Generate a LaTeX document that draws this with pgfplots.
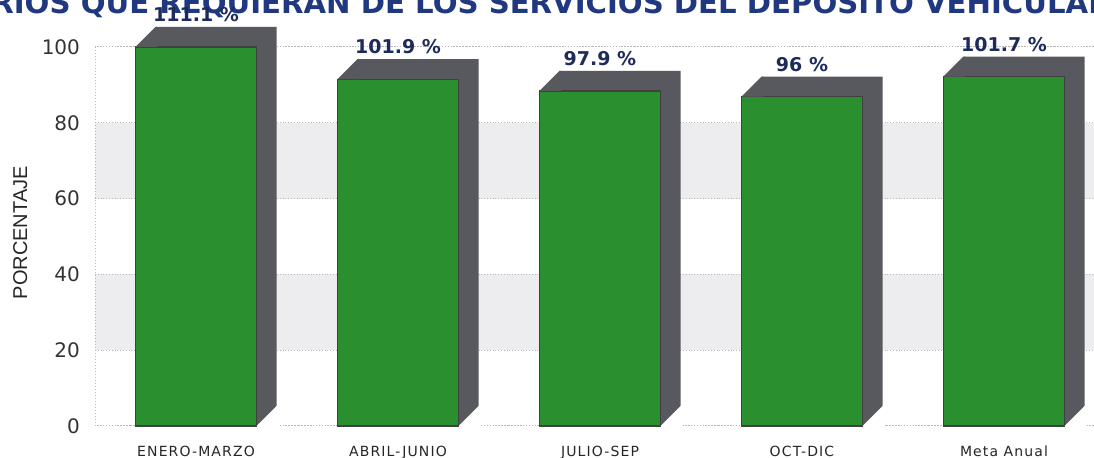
\documentclass[border=0pt]{standalone}
\usepackage{pgfplots}
\pgfplotsset{compat=1.18}
\usepackage{pgfplotstable}
\usepackage{fontspec}
\setmainfont{DejaVu Sans}
\newfontfamily\labfont{Liberation Sans}
\newfontfamily\catfont[LetterSpace=8]{DejaVu Sans}
\definecolor{bargreen}{HTML}{2A8F2E}
\definecolor{sidegray}{HTML}{58595E}
\definecolor{bandgray}{HTML}{EDEDF0}
\definecolor{titleblue}{HTML}{1F3880}
\definecolor{valblue}{HTML}{1C2B5C}
\definecolor{gridgray}{HTML}{B8B8B8}

\pgfdeclareplotmark{chamf}{%
 \pgfpathmoveto{\pgfpointorigin}%
 \pgfpathlineto{\pgfpoint{11pt}{0pt}}%
 \pgfpathlineto{\pgfpoint{11pt}{10pt}}%
 \pgfpathlineto{\pgfpoint{10pt}{10pt}}%
 \pgfpathclose\pgfusepathqfill}

\pgfplotstableread{
x h val
0 100.0 111.1
1 91.5 101.9
2 88.4 97.9
3 86.9 96
4 92.2 101.7
}\datatable

\begin{document}
\begin{tikzpicture}
\node[anchor=base west, font=\bfseries\fontsize{14.6}{16}\selectfont, text=titleblue, inner sep=0pt]
  at (-52pt,206pt) {RIOS QUE REQUIERAN DE LOS SERVICIOS DEL DEPOSITO VEHICULAR};
\begin{axis}[
  name=ax, at={(0,0)}, anchor=south west,
  scale only axis, width=505pt, height=189.5pt,
  xmin=-0.5, xmax=4.5, ymin=0, ymax=100,
  clip=false,
  set layers,
  xtick={0,...,4},
  xticklabels={ENERO-MARZO, ABRIL-JUNIO, JULIO-SEP, OCT-DIC, Meta Anual},
  ytick={0,20,...,100},
  major tick length=0pt,
  ymajorgrids,
  grid style={gridgray, densely dotted, line width=0.5pt},
  axis line style={gridgray, densely dotted, line width=0.5pt},
  yticklabel style={font=\fontsize{10}{12}\selectfont, text=black!80, xshift=-4pt},
  xticklabel style={font=\catfont\fontsize{7}{8}\selectfont, text=black!85, yshift=-6.5pt},
  ylabel={PORCENTAJE},
  ylabel style={font=\labfont\fontsize{10}{12}\selectfont, text=black!85, at={(axis description cs:-0.074,0.51)}, anchor=center},
  /pgf/number format/assume math mode=true,
]
\begin{pgfonlayer}{axis background}
\fill[bandgray] (axis cs:-0.5,20) rectangle (axis cs:4.5,40);
\fill[bandgray] (axis cs:-0.5,60) rectangle (axis cs:4.5,80);
\end{pgfonlayer}
\addplot[ybar, bar width=60.5pt, bar shift=10pt, fill=sidegray, draw=none]
  table[x=x, y expr=\thisrow{h}+5.277] {\datatable};
\addplot[only marks, mark=chamf, color=sidegray]
  table[x expr=\thisrow{x}-0.3, y=h] {\datatable};
\addplot[only marks, mark=chamf, color=white]
  table[x expr=\thisrow{x}+0.3, y expr=0] {\datatable};
\addplot[ybar, bar width=60.5pt, bar shift=0pt, fill=bargreen, draw=black!75, line width=0.6pt,
  point meta=explicit,
  nodes near coords={\pgfmathprintnumber[fixed,precision=1]{\pgfplotspointmeta}~\%},
  nodes near coords style={anchor=base, inner sep=0pt, yshift=12.75pt,
    font=\bfseries\fontsize{9.5}{11}\selectfont, text=valblue}]
  table[x=x, y=h, meta=val] {\datatable};
\end{axis}
\pgfresetboundingbox
\path[use as bounding box] ([shift={(-47.5pt,-16pt)}]ax.south west) rectangle ([shift={(499.5pt,213pt)}]ax.south west);
\end{tikzpicture}
\end{document}
